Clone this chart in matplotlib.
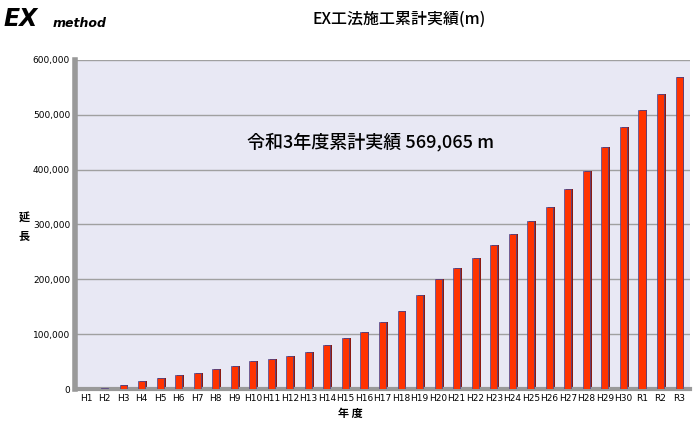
import matplotlib.pyplot as plt
from matplotlib.ticker import FuncFormatter

labels = ["H%d" % i for i in range(1, 31)] + ["R1", "R2", "R3"]
values = [1000, 2000, 7000, 14000, 20000, 26000, 29000, 36000, 42000, 52000,
          55000, 60000, 68000, 80000, 93000, 104000, 122000, 142000, 172000, 200000,
          220000, 238000, 262000, 282000, 306000, 332000, 365000, 397000, 441000, 478000,
          508000, 537000, 569065]

JP = "Noto Sans CJK JP"
fig = plt.figure(figsize=(7, 4.28), dpi=100)
ax = fig.add_axes([0.107, 0.091, 0.879, 0.769])
ax.set_facecolor("#e8e8f4")

x = range(len(values))
# side face for a pseudo-3D look
ax.bar([i + 0.1 for i in x], values, width=0.38, color="#8b1a10", zorder=2)
ax.bar(x, values, width=0.38, color="#ff3300", edgecolor="#3a4aa0",
       linewidth=0.5, zorder=3)

ax.set_xlim(-0.6, len(values) - 0.4)
ax.set_ylim(0, 600000)
ax.set_yticks(range(0, 600001, 100000))
ax.yaxis.set_major_formatter(FuncFormatter(lambda v, p: f"{int(v):,}"))
ax.grid(axis="y", color="#a0a0a0", linewidth=1, zorder=0)
ax.set_axisbelow(True)
ax.set_xticks(list(x))
ax.set_xticklabels(labels, fontsize=6.5)
ax.tick_params(axis="y", labelsize=6.5, length=0)
ax.tick_params(axis="x", length=0)
for s in ["top", "right"]:
    ax.spines[s].set_visible(False)
ax.spines["left"].set_color("#999999")
ax.spines["left"].set_linewidth(4)
ax.spines["bottom"].set_color("#999999")
ax.spines["bottom"].set_linewidth(3)

ax.text(0.28, 0.75, "令和3年度累計実績 569,065 m", transform=ax.transAxes,
        fontsize=13, family=JP, fontweight="medium", ha="left", va="center")

fig.text(0.57, 0.955, "EX工法施工累計実績(m)", fontsize=11.5, family=JP,
         fontweight="medium", ha="center", va="center")
fig.text(0.5, 0.02, "年 度", fontsize=8, family=JP, fontweight="bold",
         ha="center", va="bottom")
fig.text(0.035, 0.47, "延\n長", fontsize=8, family=JP, fontweight="bold",
         ha="center", va="center", linespacing=1.6)

# logo
fig.text(0.005, 0.955, "EX", fontsize=17, fontweight="bold", style="italic",
         color="black", ha="left", va="center")
fig.text(0.075, 0.945, "method", fontsize=9, fontweight="bold", style="italic",
         ha="left", va="center")

fig.savefig("out.png", dpi=100)
